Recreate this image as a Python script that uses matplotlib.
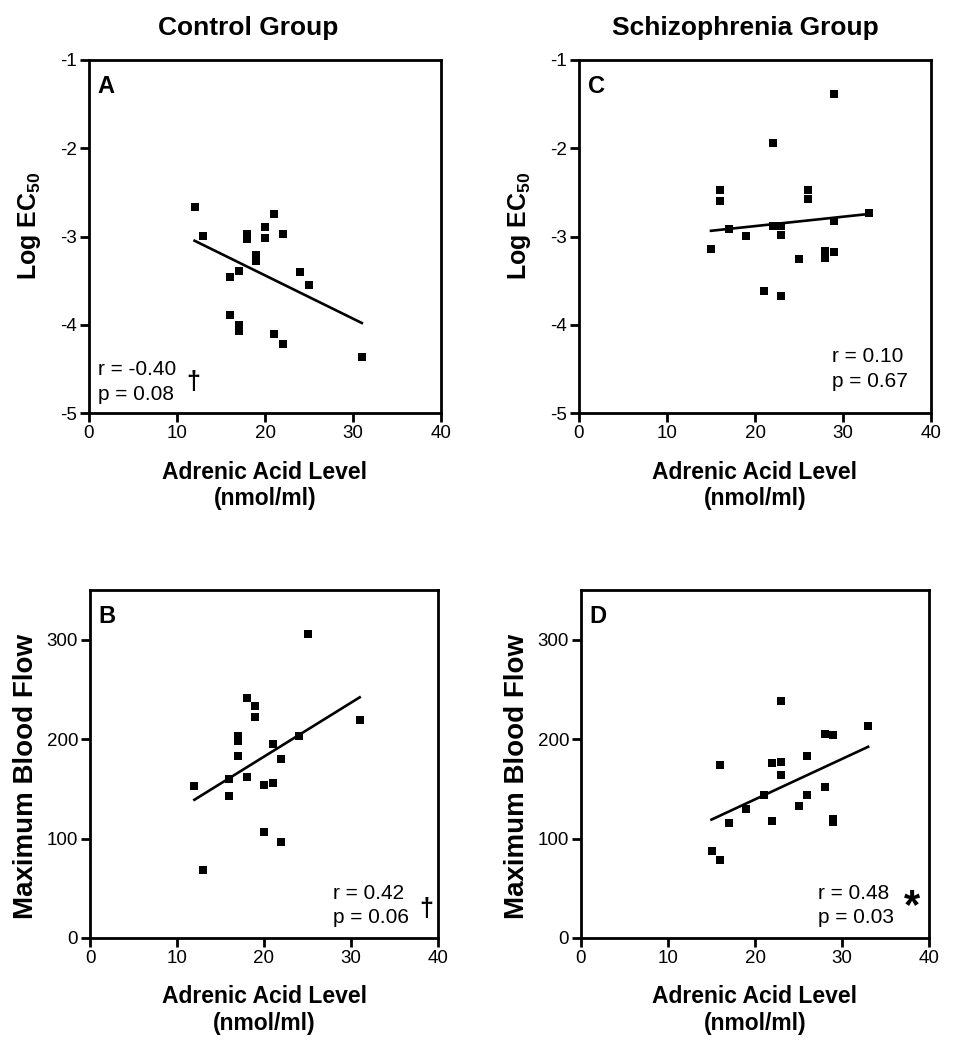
import numpy as np
import matplotlib
matplotlib.use("Agg")
import matplotlib.pyplot as plt

plt.rcParams['font.family'] = ['Liberation Sans', 'DejaVu Sans']
plt.rcParams['mathtext.fontset'] = 'custom'
plt.rcParams['mathtext.bf'] = 'Liberation Sans:bold'
plt.rcParams['mathtext.rm'] = 'Liberation Sans'
plt.rcParams['axes.unicode_minus'] = False

# Control group, log EC50 (panel A)
ctrl_aa_ec = [12, 13, 18, 18, 20, 20, 21, 22, 19, 19, 17, 16, 24, 25, 16, 17, 17, 21, 22, 31]
ctrl_ec50 = [-2.67, -2.99, -2.97, -3.03, -2.89, -3.02, -2.74, -2.97, -3.21, -3.28,
             -3.39, -3.46, -3.40, -3.55, -3.89, -4.00, -4.07, -4.10, -4.22, -4.37]

# Schizophrenia group, log EC50 (panel C)
scz_aa_ec = [29, 22, 16, 16, 26, 26, 33, 29, 17, 22, 23, 23, 19, 15, 25, 28, 28, 29, 21, 23]
scz_ec50 = [-1.39, -1.94, -2.47, -2.60, -2.47, -2.57, -2.73, -2.83, -2.91, -2.88,
            -2.88, -2.98, -2.99, -3.14, -3.26, -3.16, -3.24, -3.17, -3.62, -3.67]

# Control group, max blood flow (panel B)
ctrl_aa_bf = [25, 18, 19, 19, 31, 24, 17, 17, 21, 17, 22, 16, 18, 12, 20, 21, 16, 20, 22, 13]
ctrl_flow = [306, 241, 233, 222, 219, 203, 203, 198, 195, 183,
             180, 160, 162, 153, 154, 156, 143, 107, 97, 68]

# Schizophrenia group, max blood flow (panel D)
scz_aa_bf = [23, 33, 28, 29, 26, 22, 23, 16, 23, 21, 26, 28, 19, 25, 17, 22, 29, 29, 15, 16]
scz_flow = [238, 213, 205, 204, 183, 176, 177, 174, 164, 144,
            144, 152, 130, 133, 116, 118, 120, 117, 87, 78]

stats = {
    'A': ('r = -0.40', 'p = 0.08', '\u2020'),
    'B': ('r = 0.42', 'p = 0.06', '\u2020'),
    'C': ('r = 0.10', 'p = 0.67', ''),
    'D': ('r = 0.48', 'p = 0.03', '*'),
}

W, H = 961, 1050
fig = plt.figure(figsize=(W / 100, H / 100), dpi=100)


def px_axes(left, right, top, bottom):
    return fig.add_axes([left / W, 1 - bottom / H, (right - left) / W, (bottom - top) / H])


def draw_panel(ax, x, y, letter, ylim, yticks, ylabel, ylab_pos, ylab_size, txt_pos, mark_pos, mark_size):
    x = np.array(x, dtype=float)
    y = np.array(y, dtype=float)
    ax.plot(x, y, 's', color='black', markersize=6, markeredgewidth=0, clip_on=False)
    slope, icpt = np.polyfit(x, y, 1)
    xs = np.array([x.min(), x.max()])
    ax.plot(xs, slope * xs + icpt, color='black', lw=1.9)

    ax.set_xlim(0, 40)
    ax.set_ylim(*ylim)
    ax.set_xticks([0, 10, 20, 30, 40])
    ax.set_yticks(yticks)
    for s in ax.spines.values():
        s.set_linewidth(2)
    ax.tick_params(direction='out', length=6.5, width=2, labelsize=13.5, pad=2)

    ax.set_xlabel('Adrenic Acid Level\n(nmol/ml)', fontsize=16.5, fontweight='bold', linespacing=1.2)
    ax.xaxis.set_label_coords(0.5, -0.135)
    ax.text(ylab_pos[0], ylab_pos[1], ylabel, transform=ax.transAxes, rotation=90,
            fontsize=ylab_size, fontweight='bold', ha='center', va='center')

    ax.text(0.025, 0.957, letter, transform=ax.transAxes, fontsize=17, fontweight='bold',
            ha='left', va='top')
    r_txt, p_txt, mark = stats[letter]
    ax.text(txt_pos[0], txt_pos[1], r_txt, transform=ax.transAxes, fontsize=15, ha='left', va='center')
    ax.text(txt_pos[0], txt_pos[1] - 0.071, p_txt, transform=ax.transAxes, fontsize=15,
            ha='left', va='center')
    if mark:
        ax.text(mark_pos[0], mark_pos[1], mark, transform=ax.transAxes, fontsize=mark_size,
                fontweight='bold', ha='center', va='center')


ec_label = 'Log EC$_{\\mathbf{50}}$'
bf_label = 'Maximum Blood Flow'

axA = px_axes(89, 441, 60, 413)
draw_panel(axA, ctrl_aa_ec, ctrl_ec50, 'A', (-5, -1), [-5, -4, -3, -2, -1], ec_label,
           (-0.168, 0.531), 18, (0.026, 0.122), (0.295, 0.088), 18)

axC = px_axes(579, 931, 60, 413)
draw_panel(axC, scz_aa_ec, scz_ec50, 'C', (-5, -1), [-5, -4, -3, -2, -1], ec_label,
           (-0.168, 0.531), 18, (0.72, 0.159), None, 18)

axB = px_axes(90, 438, 590, 938)
draw_panel(axB, ctrl_aa_bf, ctrl_flow, 'B', (0, 350), [0, 100, 200, 300], bf_label,
           (-0.184, 0.464), 20, (0.698, 0.129), (0.966, 0.082), 18)

axD = px_axes(581, 929, 590, 938)
draw_panel(axD, scz_aa_bf, scz_flow, 'D', (0, 350), [0, 100, 200, 300], bf_label,
           (-0.184, 0.464), 20, (0.681, 0.129), (0.951, 0.09), 30)

fig.text(248 / W, 1 - 28 / H, 'Control Group', fontsize=19, fontweight='bold', ha='center', va='center')
fig.text(745 / W, 1 - 28 / H, 'Schizophrenia Group', fontsize=19, fontweight='bold',
         ha='center', va='center')

fig.savefig('out.png', dpi=100)
